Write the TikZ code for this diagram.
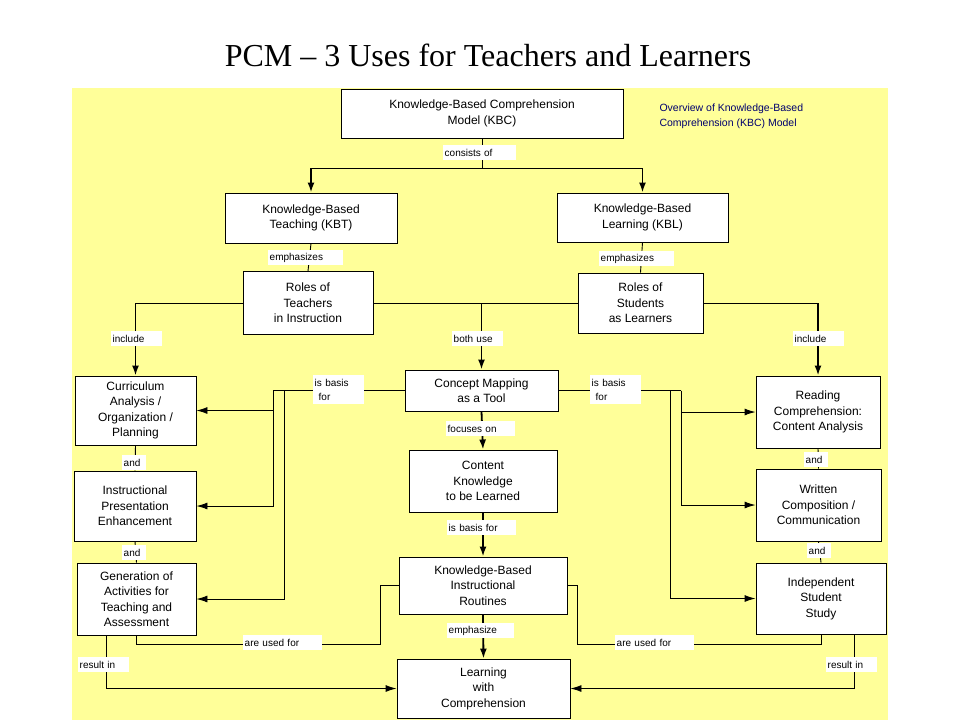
\documentclass[tikz,border=0pt]{standalone}
\usepackage{fontspec}
\setmainfont{Liberation Serif}
\setsansfont{Liberation Sans}
\usetikzlibrary{arrows.meta}
\definecolor{bgyellow}{RGB}{255,255,153}
\definecolor{notenavy}{RGB}{0,0,110}
\tikzset{
  box/.style={draw, fill=white, line width=0.9pt, align=center, inner sep=1pt,
    font=\sffamily\fontsize{12}{15.5}\selectfont},
  lbl/.style={fill=white, anchor=north west, inner sep=1.5pt, text width=#1, align=left,
    minimum height=15, font=\sffamily\fontsize{10}{14}\selectfont},
  lbl/.default=48,
  link/.style={line width=0.9pt},
  arr/.style={line width=1.8pt, -{Latex[length=10pt,width=7pt]}},
  harr/.style={line width=0.9pt, -{Latex[length=11pt,width=7pt]}}
}
\begin{document}
\begin{tikzpicture}[x=1pt,y=1pt,yscale=-1]
\useasboundingbox (0,0) rectangle (960,720);
\fill[bgyellow] (72,88) rectangle (888,720);
\node (title) at (488,55) {\fontsize{32}{36}\selectfont PCM -- 3 Uses for Teachers and Learners};
\node[anchor=north west, align=left, text=notenavy, font=\sffamily\fontsize{10.5}{15}\selectfont] (note) at (656,100)
  {Overview of Knowledge-Based\\Comprehension (KBC) Model};

% boxes
\node[box, minimum width=282, minimum height=49] (kbc) at (482,113.5) {Knowledge-Based Comprehension\\Model (KBC)};
\node[box, minimum width=172, minimum height=50] (kbt) at (311,218) {Knowledge-Based\\Teaching (KBT)};
\node[box, minimum width=171, minimum height=49] (kbl) at (642.5,217.5) {Knowledge-Based\\Learning (KBL)};
\node[box, minimum width=130, minimum height=63] (rt) at (308,303) {Roles of\\Teachers\\in Instruction};
\node[box, minimum width=125, minimum height=60] (rs) at (640.5,303) {Roles of\\Students\\as Learners};
\node[box, minimum width=153, minimum height=41] (cm) at (481.5,390.5) {Concept Mapping\\as a Tool};
\node[box, minimum width=121, minimum height=69] (ca) at (135.5,410.5) {Curriculum\\Analysis /\\Organization /\\Planning};
\node[box, minimum width=122, minimum height=70] (ip) at (135,506) {Instructional\\Presentation\\Enhancement};
\node[box, minimum width=119, minimum height=72] (ga) at (136.5,599) {Generation of\\Activities for\\Teaching and\\Assessment};
\node[box, minimum width=124, minimum height=72] (rc) at (818,412) {Reading\\Comprehension:\\Content Analysis};
\node[box, minimum width=125, minimum height=72] (wc) at (818.5,505) {Written\\Composition /\\Communication};
\node[box, minimum width=130, minimum height=71] (is) at (821,598.5) {Independent\\Student\\Study};
\node[box, minimum width=148, minimum height=62] (ck) at (483,481) {Content\\Knowledge\\to be Learned};
\node[box, minimum width=168, minimum height=57] (kr) at (483,585.5) {Knowledge-Based\\Instructional\\Routines};
\node[box, minimum width=173, minimum height=59] (lc) at (483.5,688.5) {Learning\\with\\Comprehension};

% top tree
\draw[link] (kbc.south) -- ++(0,30) coordinate (split);
\draw[link] (kbt.north |- split) -- (kbl.north |- split);
\draw[arr] (kbt.north |- split) -- (kbt.north);
\draw[arr] (kbl.north |- split) -- (kbl.north);
\draw[link] (kbt.south) -- (rt.north);
\draw[link] (kbl.south) -- (rs.north);
\draw[link] (ca.north |- rt.west) -- (rt.west);
\draw[link] (rt.east) -- (rs.west);
\draw[link] (rs.east) -- (rc.north |- rs.east);
\draw[arr] (ca.north |- rt.west) -- (ca.north);
\draw[arr] (rc.north |- rs.east) -- (rc.north);
\draw[arr] (cm.north |- rt.east) -- (cm.north);

% is basis for
\coordinate (lb1) at (273,390.5);
\coordinate (lb2) at (284,390.5);
\coordinate (rb1) at (670,390.5);
\coordinate (rb2) at (681,390.5);
\draw[link] (cm.west) -- (lb1);
\draw[harr] (lb1) |- (ca.east);
\draw[harr] (lb1) |- (ip.east);
\draw[harr] (lb2) |- (ga.east);
\draw[link] (cm.east) -- (rb2);
\draw[harr] (rb2) |- (rc.west);
\draw[harr] (rb2) |- (wc.west);
\draw[harr] (rb1) |- (is.west);

% centre chain
\draw[arr] (cm.south) -- (ck.north);
\draw[arr] (ck.south) -- (kr.north);
\draw[arr] (kr.south) -- (lc.north);
\draw[link] (ca.south) -- (ip.north);
\draw[link] (ip.south) -- (ga.north);
\draw[link] (rc.south) -- (wc.north);
\draw[link] (wc.south) -- (is.north);

% are used for / result in
\draw[link] (ga.south) |- (380,644) |- (kr.west);
\draw[link] (kr.east) -| (577,644) -| (is.south);
\draw[harr] ([xshift=-30]ga.south) |- (lc.west);
\draw[harr] ([xshift=33]is.south) |- (lc.east);

% labels
\node[lbl=70] (l1) at (443,145) {consists of};
\node[lbl=72] (l2) at (268,250) {emphasizes};
\node[lbl=72] (l3) at (599,251) {emphasizes};
\node[lbl] (l4) at (111,331) {include};
\node[lbl] (l5) at (793,331) {include};
\node[lbl] (l6) at (452,331) {both use};
\node[lbl=48, minimum height=29] (l7) at (313,375) {is basis\\\hspace*{4pt}for};
\node[lbl=48, minimum height=29] (l8) at (590,375) {is basis\\\hspace*{4pt}for};
\node[lbl=66] (l9) at (446,421) {focuses on};
\node[lbl=66] (l10) at (447,520) {is basis for};
\node[lbl=64] (l11) at (447,623) {emphasize};
\node[lbl=21] (l12) at (122,455) {and};
\node[lbl=21] (l13) at (122,545) {and};
\node[lbl=21] (l14) at (804,452) {and};
\node[lbl=21] (l15) at (807,543) {and};
\node[lbl=76] (l16) at (243,635) {are used for};
\node[lbl=76] (l17) at (615,635) {are used for};
\node[lbl] (l18) at (78,657) {result in};
\node[lbl] (l19) at (826,657) {result in};
\end{tikzpicture}
\end{document}
